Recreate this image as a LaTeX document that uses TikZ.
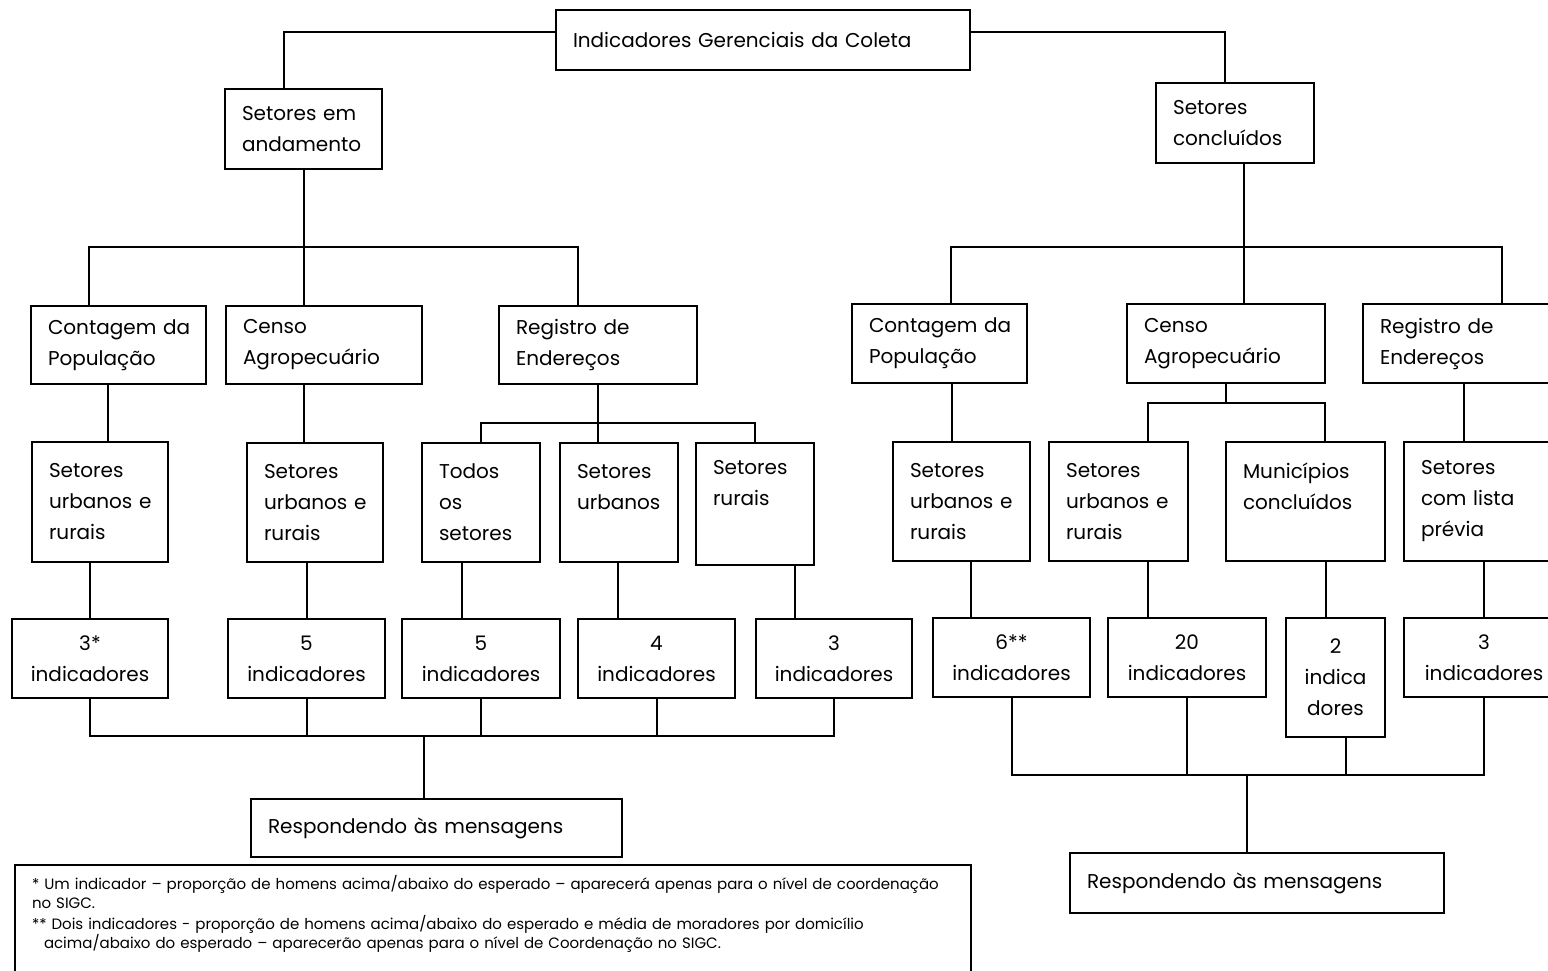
\documentclass[tikz,border=0pt]{standalone}
\usepackage{fontspec}
\setmainfont{Poppins}
\usetikzlibrary{calc}

\begin{document}
\begin{tikzpicture}[
    x=1pt, y=-1pt,
    every node/.style={font=\fontsize{20}{31}\selectfont},
    box/.style 2 args={draw, line width=2.4pt, anchor=north west, outer sep=0pt,
        inner xsep=17pt, inner ysep=0pt, minimum width=#1, minimum height=#2,
        text width=#1-34pt, align=left},
    ind/.style 2 args={box={#1}{#2}, align=center},
    link/.style={line width=2pt}
]
\useasboundingbox (0,0) rectangle (1548,971);
\clip (0,0) rectangle (1548,971);

\node[box={414}{60}] (top) at (556,10) {Indicadores~Gerenciais~da~Coleta};
\node[box={157}{80}] (anda) at (225,89) {Setores~em\\andamento};
\node[box={158}{80}] (conc) at (1156,83) {Setores\\concluídos};

\node[box={175}{78}] (contL) at (31,306) {Contagem~da\\População};
\node[box={196}{78}] (censoL) at (226,306) {Censo\\Agropecuário};
\node[box={198}{78}] (regL) at (499,306) {Registro~de\\Endereços};
\node[box={175}{79}] (contR) at (852,304) {Contagem~da\\População};
\node[box={198}{79}] (censoR) at (1127,304) {Censo\\Agropecuário};
\node[box={200}{79}] (regR) at (1363,304) {Registro~de\\Endereços};

\node[box={136}{120}] (setL1) at (32,442) {Setores\\urbanos~e\\rurais};
\node[box={136}{119}] (setL2) at (247,443) {Setores\\urbanos~e\\rurais};
\node[box={118}{119}] (todos) at (422,443) {Todos\\os\\setores};
\node[box={118}{119}] (urb) at (560,443) {Setores\\urbanos\\\mbox{}};
\node[box={118}{122}, text depth=74pt] (rur) at (696,443) {Setores\\rurais};
\node[box={137}{119}] (setR1) at (893,442) {Setores\\urbanos~e\\rurais};
\node[box={139}{119}] (setR2) at (1049,442) {Setores\\urbanos~e\\rurais};
\node[box={159}{119}] (mun) at (1226,442) {Municípios\\concluídos\\\mbox{}};
\node[box={160}{119}] (lista) at (1404,442) {Setores\\com~lista\\prévia};

\node[ind={156}{79}] (i3s) at (12,619) {3*\\indicadores};
\node[ind={157}{79}] (i5a) at (228,619) {5\\indicadores};
\node[ind={158}{79}] (i5b) at (402,619) {5\\indicadores};
\node[ind={157}{79}] (i4) at (578,619) {4\\indicadores};
\node[ind={156}{79}] (i3) at (756,619) {3\\indicadores};
\node[ind={157}{79}] (i6) at (933,618) {6**\\indicadores};
\node[ind={158}{79}] (i20) at (1108,618) {20\\indicadores};
\node[ind={99}{119}] (i2) at (1286,618) {2\\indica\\dores};
\node[ind={160}{79}] (i3r) at (1404,618) {3\\indicadores};

\node[box={371}{58}] (respL) at (251,799) {Respondendo~às~mensagens};
\node[box={374}{60}] (respR) at (1070,853) {Respondendo~às~mensagens};

\node[box={956}{10}, inner xsep=3pt, inner ysep=10pt, text depth=100pt,
    font=\fontsize{15}{19}\selectfont] (nota) at (15,865)
    {* Um indicador – proporção de homens acima/abaixo do esperado – aparecerá apenas para o nível de coordenação\\
     no SIGC.\\[2pt]
     ** Dois indicadores - proporção de homens acima/abaixo do esperado e média de moradores por domicílio\\
     \hspace*{12pt}acima/abaixo do esperado – aparecerão apenas para o nível de Coordenação no SIGC.};

\coordinate (jL) at (303.5,247);
\coordinate (jR) at (1244,247);
\coordinate (jE) at (598,423);
\coordinate (jC) at (1226,403);
\coordinate (jB) at (424,736);
\coordinate (jD) at (1247,775);

\draw[link] ([yshift=8pt]top.west) -| ([xshift=-19.5pt]anda.north);
\draw[link] ([yshift=8pt]top.east) -| ([xshift=-10pt]conc.north);

\draw[link] (anda.south) -- (jL);
\draw[link] ([xshift=-29.5pt]contL.north) |- (jL) -| ([xshift=-20pt]regL.north);
\draw[link] (jL) -- ([xshift=-20.5pt]censoL.north);
\draw[link] ([xshift=9pt]conc.south) -- (jR);
\draw[link] ([xshift=11.5pt]contR.north) |- (jR) -| ([xshift=39pt]regR.north);
\draw[link] (jR) -- ([xshift=18pt]censoR.north);

\draw[link] ([xshift=-10.5pt]contL.south) -- ([xshift=8pt]setL1.north);
\draw[link] ([xshift=-20pt]censoL.south) -- ([xshift=-11pt]setL2.north);
\draw[link] (regL.south) -- ([xshift=-21pt]urb.north);
\draw[link] (todos.north) |- (jE) -| (rur.north);
\draw[link] ([xshift=12pt]contR.south) -- ([xshift=-10pt]setR1.north);
\draw[link] (censoR.south) -- (jC);
\draw[link] ([xshift=29.5pt]setR2.north) |- (jC) -| ([xshift=19.5pt]mun.north);
\draw[link] ([xshift=1pt]regR.south) -- ([xshift=-20pt]lista.north);

\draw[link] ([xshift=-10pt]setL1.south) -- (i3s.north);
\draw[link] ([xshift=-8.5pt]setL2.south) -- (i5a.north);
\draw[link] ([xshift=-19pt]todos.south) -- ([xshift=-19pt]i5b.north);
\draw[link] ([xshift=-1pt]urb.south) -- ([xshift=-38.5pt]i4.north);
\draw[link] ([xshift=40pt]rur.south) -- ([xshift=-39pt]i3.north);
\draw[link] ([xshift=9.5pt]setR1.south) -- ([xshift=-40.5pt]i6.north);
\draw[link] ([xshift=29.5pt]setR2.south) -- ([xshift=-39pt]i20.north);
\draw[link] ([xshift=20.5pt]mun.south) -- ([xshift=-9.5pt]i2.north);
\draw[link] (lista.south) -- (i3r.north);

\draw[link] (i3s.south) |- (jB) -| (i3.south);
\foreach \n in {i5a,i5b,i4}
    \draw[link] (\n.south) -- (\n.south |- jB);
\draw[link] (jB) -- ([xshift=-12.5pt]respL.north);
\draw[link] (i6.south) |- (jD) -| (i3r.south);
\draw[link] (i20.south) -- (i20.south |- jD);
\draw[link] ([xshift=10.5pt]i2.south) -- ([xshift=10.5pt]i2.south |- jD);
\draw[link] (jD) -- ([xshift=-10pt]respR.north);

\end{tikzpicture}
\end{document}
